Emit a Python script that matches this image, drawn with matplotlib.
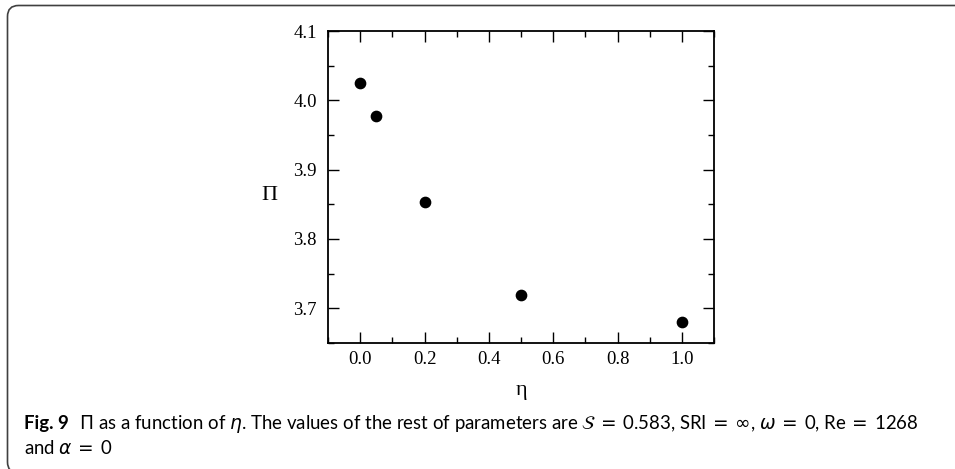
import matplotlib.pyplot as plt
from matplotlib.patches import FancyBboxPatch
from matplotlib.ticker import MultipleLocator
from matplotlib.transforms import IdentityTransform

# data
eta = [0.0, 0.05, 0.2, 0.5, 1.0]
pi_vals = [4.025, 3.978, 3.853, 3.719, 3.681]

W, H = 955, 469
fig = plt.figure(figsize=(W / 100, H / 100), dpi=100)

# rounded frame, only its left side, top and corners fall inside the picture
frame = FancyBboxPatch((7.5, -4), 1200, H - 5.5 + 4,
                       boxstyle="round,pad=0,rounding_size=11",
                       transform=IdentityTransform(), fill=False,
                       edgecolor="#404040", linewidth=1.2, clip_on=False)
fig.patches.append(frame)

ax = fig.add_axes([328 / W, 1 - 343 / H, (714 - 328) / W, (343 - 31) / H])
ax.scatter(eta, pi_vals, s=55, color="black", zorder=3)

ax.set_xlim(-0.1, 1.1)
ax.set_ylim(3.65, 4.1)
ax.xaxis.set_major_locator(MultipleLocator(0.2))
ax.xaxis.set_minor_locator(MultipleLocator(0.1))
ax.yaxis.set_major_locator(MultipleLocator(0.1))
ax.yaxis.set_minor_locator(MultipleLocator(0.05))
ax.tick_params(which="both", direction="in", top=True, right=True, width=1.0)
ax.tick_params(which="major", length=8)
ax.tick_params(which="minor", length=4)
for sp in ax.spines.values():
    sp.set_linewidth(1.3)

serif = ["Liberation Serif", "DejaVu Serif"]
ax.xaxis.set_major_formatter(plt.FuncFormatter(lambda v, p: f"{v:.1f}"))
ax.yaxis.set_major_formatter(plt.FuncFormatter(lambda v, p: f"{v:.1f}"))
for lab in ax.get_xticklabels() + ax.get_yticklabels():
    lab.set_family(serif)
    lab.set_fontsize(13.5)
ax.tick_params(axis="x", pad=6)
ax.tick_params(axis="y", pad=8)

fig.text(269 / W, 1 - 195 / H, "Π", family=serif, fontsize=16,
         ha="center", va="center")
fig.text(521 / W, 1 - 390 / H, "η", family=serif, fontsize=16,
         ha="center", va="center")

# caption, font size scaled so the first line ends where the reference's does
cap_font = ["Lato", "DejaVu Sans"]
plt.rcParams["mathtext.fontset"] = "dejavusans"
rest = (r"  $\Pi$ as a function of $\eta$. The values of the rest of parameters are "
        r"$\mathcal{S}\,=\,$0.583, SRI$\,=\,\infty$, $\omega\,=\,$0, Re$\,=\,$1268")
x0, x_end = 24, 915
fs = 13.0
for _ in range(3):
    t1 = fig.text(x0 / W, 1 - 429 / H, "Fig. 9", family=cap_font, fontsize=fs,
                  weight="bold", va="baseline")
    fig.canvas.draw()
    bb = t1.get_window_extent()
    t2 = fig.text((bb.x1 + 1) / W, 1 - 429 / H, rest, family=cap_font,
                  fontsize=fs, va="baseline")
    fig.canvas.draw()
    end = t2.get_window_extent().x1
    scale = (x_end - x0) / (end - x0)
    t1.remove()
    t2.remove()
    fs *= scale

t1 = fig.text(x0 / W, 1 - 429 / H, "Fig. 9", family=cap_font, fontsize=fs,
              weight="bold", va="baseline")
fig.canvas.draw()
bb = t1.get_window_extent()
fig.text((bb.x1 + 1) / W, 1 - 429 / H, rest, family=cap_font, fontsize=fs,
         va="baseline")
fig.text(x0 / W, 1 - 454 / H, r"and $\alpha\,=\,$0", family=cap_font,
         fontsize=fs, va="baseline")

fig.savefig("out.png", dpi=100)
